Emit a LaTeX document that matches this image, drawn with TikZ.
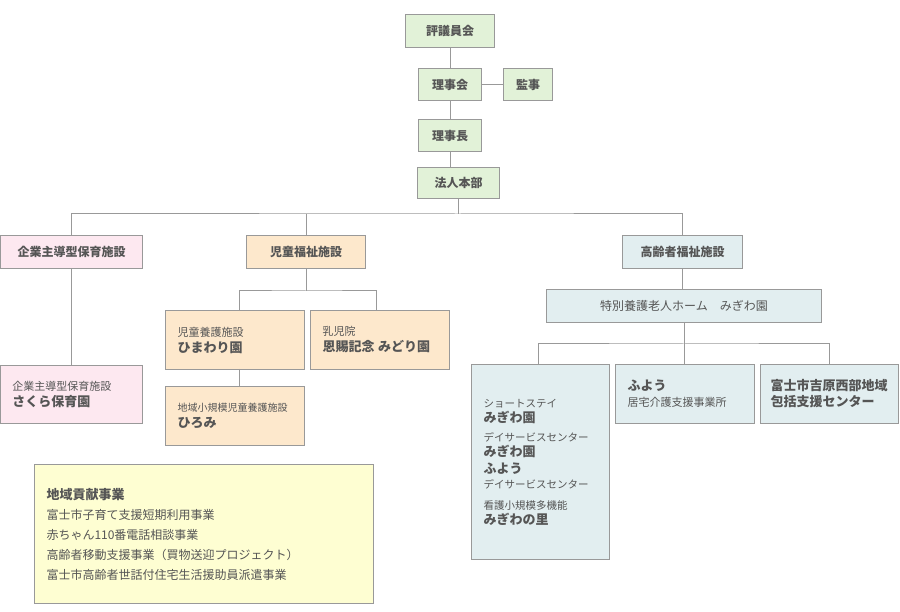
\documentclass[tikz,border=0pt]{standalone}
\usepackage{fontspec}
\setmainfont{Noto Sans CJK JP}
\newfontfamily\boldjp[FakeBold=1.5]{Noto Sans CJK JP}
\usetikzlibrary{positioning}

\definecolor{linegray}{HTML}{999999}
\definecolor{txtgray}{HTML}{555555}
\definecolor{topgreen}{HTML}{E2F2D8}
\definecolor{kpink}{HTML}{FDE8F0}
\definecolor{korange}{HTML}{FDE8CC}
\definecolor{kblue}{HTML}{E2EEF0}
\definecolor{kyellow}{HTML}{FEFED2}

\begin{document}
\begin{tikzpicture}
	[x=1pt,y=-1pt,
	 bx/.style={draw=linegray,fill=#1,line width=1pt,anchor=north west,inner sep=0pt,
	            text=txtgray,font=\fontsize{12}{14}\selectfont\bfseries},
	 lbox/.style={draw=linegray,fill=#1,line width=1pt,anchor=north west,inner xsep=12pt,inner ysep=8pt,
	            text=txtgray,align=left,font=\fontsize{11}{16}\selectfont},
	]
	\tikzset{conn/.style={draw=linegray,line width=1pt}}
	\useasboundingbox (0,0) rectangle (900,612);
	\newcommand{\bt}[1]{{\fontsize{13}{19}\selectfont\bfseries #1}}

	\node[bx=topgreen,minimum width=89pt,minimum height=33pt] (hyogi) at (405,14) {評議員会};
	\node[bx=topgreen,minimum width=63pt,minimum height=32pt] (rijikai) at (418,68) {理事会};
	\node[bx=topgreen,minimum width=49pt,minimum height=32pt] (kanji) at (503,68) {監事};
	\node[bx=topgreen,minimum width=63pt,minimum height=32pt] (rijicho) at (418,119) {理事長};
	\node[bx=topgreen,minimum width=82pt,minimum height=31pt] (honbu) at (417,167) {法人本部};

	\node[bx=kpink,minimum width=142pt,minimum height=33pt] (kigyo) at (0,235) {企業主導型保育施設};
	\node[bx=korange,minimum width=119pt,minimum height=33pt] (jido) at (246,235) {児童福祉施設};
	\node[bx=kblue,minimum width=120pt,minimum height=33pt] (korei) at (622,235) {高齢者福祉施設};

	\node[lbox=kpink,text width=118pt,minimum height=58pt] (sakura) at (0,365) {企業主導型保育施設\\\bt{さくら保育園}};
	\node[lbox=korange,text width=115pt,minimum height=59pt] (himawari) at (165,310) {児童養護施設\\\bt{ひまわり園}};
	\node[lbox=korange,text width=115pt,minimum height=59pt] (nyuji) at (310,310) {乳児院\\\bt{恩賜記念 みどり園}};
	\node[lbox=korange,text width=115pt,minimum height=59pt] (hiromi) at (165,386) {{\fontsize{10}{16}\selectfont 地域小規模児童養護施設}\\\bt{ひろみ}};

	\node[bx=kblue,minimum width=275pt,minimum height=33pt,font=\fontsize{12}{14}\selectfont] (tokuyo) at (546,289) {特別養護老人ホーム\quad みぎわ園};
	\node[lbox=kblue,text width=114pt,minimum height=195pt,inner ysep=10pt,font=\fontsize{10.5}{15}\selectfont] (list) at (471,364)
		{ショートステイ\\\bt{みぎわ園}\\[4pt]デイサービスセンター\\\bt{みぎわ園}\\[2pt]\bt{ふよう}\\デイサービスセンター\\[6pt]看護小規模多機能\\\bt{みぎわの里}};
	\node[lbox=kblue,text width=115pt,minimum height=59pt] (fuyo) at (615,364) {\bt{ふよう}\\居宅介護支援事業所};
	\node[lbox=kblue,text width=118pt,minimum height=59pt,inner xsep=10pt] (fuji) at (760,364) {\bt{富士市吉原西部地域}\\\bt{包括支援センター}};

	\node[lbox=kyellow,text width=315pt,minimum height=139pt,inner ysep=14pt,font=\fontsize{12}{20}\selectfont] (koken) at (34,464)
		{\bt{地域貢献事業}\\富士市子育て支援短期利用事業\\赤ちゃん110番電話相談事業\\高齢者移動支援事業（買物送迎プロジェクト）\\富士市高齢者世話付住宅生活援助員派遣事業};

	% connectors
	\path[conn] (hyogi) -- (rijikai) -- (rijicho) -- (honbu.north -| rijicho);
	\path[conn] (rijikai) -- (kanji);
	\path[conn] (honbu.south) -- ++(0,15) coordinate (bus);
	\path[conn] (kigyo.north) |- (bus) -| (korei.north);
	\path[conn] (bus -| jido.north) -- (jido.north);
	\path[conn] (kigyo.south) -- (kigyo.south |- sakura.north);
	\path[conn] (jido.south) -- ++(0,22) coordinate (jbus);
	\path[conn] (himawari.north -| 239,0) |- (jbus) -| (376,310);
	\path[conn] (239,369) -- (hiromi.north -| 239,0);
	\path[conn] (korei.south) -- (tokuyo.north -| korei.south);
	\path[conn] (tokuyo.south) -- ++(0,21) coordinate (tbus);
	\path[conn] (538,364) |- (tbus) -| (829,364);
	\path[conn] (tbus) -- (tbus |- fuyo.north);
\end{tikzpicture}
\end{document}
